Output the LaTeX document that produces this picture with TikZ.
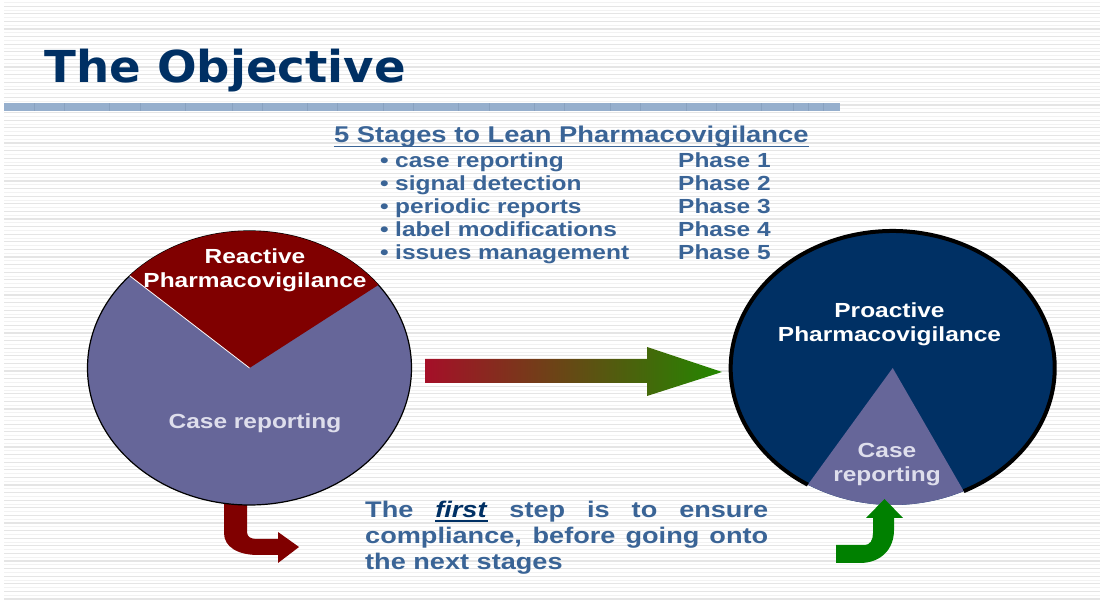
\documentclass[tikz,border=0pt]{standalone}
\usepackage{fontspec}
\usepackage{tikz}
\setmainfont{Liberation Sans}
\newfontfamily\widefont[FakeStretch=1.2]{Liberation Sans}
\newfontfamily\titlefont[FakeStretch=1.06]{DejaVu Sans}
\definecolor{navy}{RGB}{0,48,100}
\definecolor{slate}{RGB}{102,102,153}
\definecolor{maroon}{RGB}{128,0,0}
\definecolor{steel}{RGB}{58,100,150}
\definecolor{barblue}{RGB}{150,175,205}
\definecolor{palecase}{RGB}{222,222,236}
\definecolor{arrowgreen}{RGB}{0,128,0}
\definecolor{arrowstart}{RGB}{165,15,40}
\definecolor{arrowend}{RGB}{35,135,0}
\newcommand{\heavyunder}[2]{\setbox0\hbox{#2}\rlap{\rule[-4.5pt]{\wd0}{#1}}\box0}
\tikzset{
  listtext/.style={anchor=base west,inner sep=0pt,text=steel,font=\widefont\bfseries\fontsize{20.4}{23}\selectfont},
  disclabel/.style={inner sep=0pt,align=center,font=\widefont\bfseries\fontsize{20.4}{24}\selectfont}
}

\begin{document}
\begin{tikzpicture}[x=1pt,y=1pt]
\useasboundingbox (0,0) rectangle (1100,602);

% draw the stripes behind everything
\foreach \y in {3,10.6,...,600}
\draw[color=black!10,line width=1.1pt] (4,\y) -- (1100,\y);
\foreach \y in {6.8,14.4,...,600}
\draw[color=black!5,line width=0.7pt] (4,\y) -- (1100,\y);

% draw title and rule
\node[anchor=base west,inner sep=0pt,text=navy,font=\titlefont\bfseries\fontsize{44}{48}\selectfont] (title) at (44,519) {The Objective};
\fill[barblue] (4,491) rectangle (840,499);
\foreach \x in {34,64,109,140,185,232,262,307,337,383,413,458,489,534,564,610,640,686,716,761,793,808,823}
\draw[color=steel!60,line width=0.4pt] (\x,491) -- (\x,499);

% draw the list of stages
\node[listtext,font=\widefont\bfseries\fontsize{22.8}{26}\selectfont] (heading) at (334,459) {\heavyunder{1.6pt}{5 Stages to Lean Pharmacovigilance}};
\foreach \n/\y/\stage in {1/434/case reporting,2/411/signal detection,3/388/periodic reports,4/365/label modifications,5/342/issues management}
{
\node[listtext] (bullet\n) at (380,\y) {\textbullet};
\node[listtext] (stage\n) at (395,\y) {\stage};
\node[listtext] (phase\n) at (678,\y) {Phase \n};
}

% draw the lower left arrow
\fill[maroon] (224,100) -- (247,100) -- (247,70) .. controls (247,65) and (251,63) .. (257,63) -- (278,63) -- (278,70) -- (299,55) -- (278,39) -- (278,47) -- (258,47) .. controls (238,47) and (224,55) .. (224,69) -- cycle;

% draw reactive circle
\coordinate (reactivecentre) at (249.5,234);
\draw[fill=slate,line width=1.2pt] (reactivecentre) ellipse [x radius=162,y radius=137];
\fill[maroon] (reactivecentre) -- +(37.3:162 and 137) arc [start angle=37.3,end angle=137.7,x radius=162,y radius=137] -- cycle;
\draw[white,line width=0.8pt] (reactivecentre) -- +(137.7:162 and 137);
\node[disclabel,text=white] (reactive) at (255,332) {Reactive\\Pharmacovigilance};
\node[disclabel,text=palecase] (casereactive) at (255,179) {Case reporting};

% draw the middle arrow
\shade[left color=arrowstart,right color=arrowend] (425,243) -- (647,243) -- (647,255) -- (722,230) -- (647,206) -- (647,219) -- (425,219) -- cycle;

% draw proactive circle
\coordinate (proactivecentre) at (892.7,234);
\fill[navy] (proactivecentre) ellipse [x radius=162,y radius=137];
\fill[slate] (proactivecentre) -- +(238.4:162 and 137) arc [start angle=238.4,end angle=296,x radius=162,y radius=137] -- cycle;
\draw[line width=4pt] (proactivecentre) ++(296:162 and 137) arc [start angle=296,end angle=598.4,x radius=162,y radius=137];
\node[disclabel,text=white] (proactive) at (889.5,278) {Proactive\\Pharmacovigilance};
\node[disclabel,text=palecase] (caseproactive) at (887,137) {Case\\reporting};

% draw the lower right arrow
\fill[arrowgreen] (836,39) -- (836,57) -- (865,57) .. controls (870,57) and (873,62) .. (873,69) -- (873,84) -- (866,84) -- (884.5,103) -- (903,84) -- (894,84) -- (894,72) .. controls (894,52) and (880,39) .. (860,39) -- cycle;

% draw the closing remark
\node[anchor=north west,inner sep=0pt,text width=403pt,align=justify,text=steel,font=\widefont\bfseries\fontsize{22.6}{26}\selectfont] (remark) at (365,101)
{The \textcolor{navy}{\heavyunder{1.6pt}{\textit{first}}} step is to ensure\linebreak compliance, before going onto\linebreak the next stages};

\end{tikzpicture}
\end{document}
